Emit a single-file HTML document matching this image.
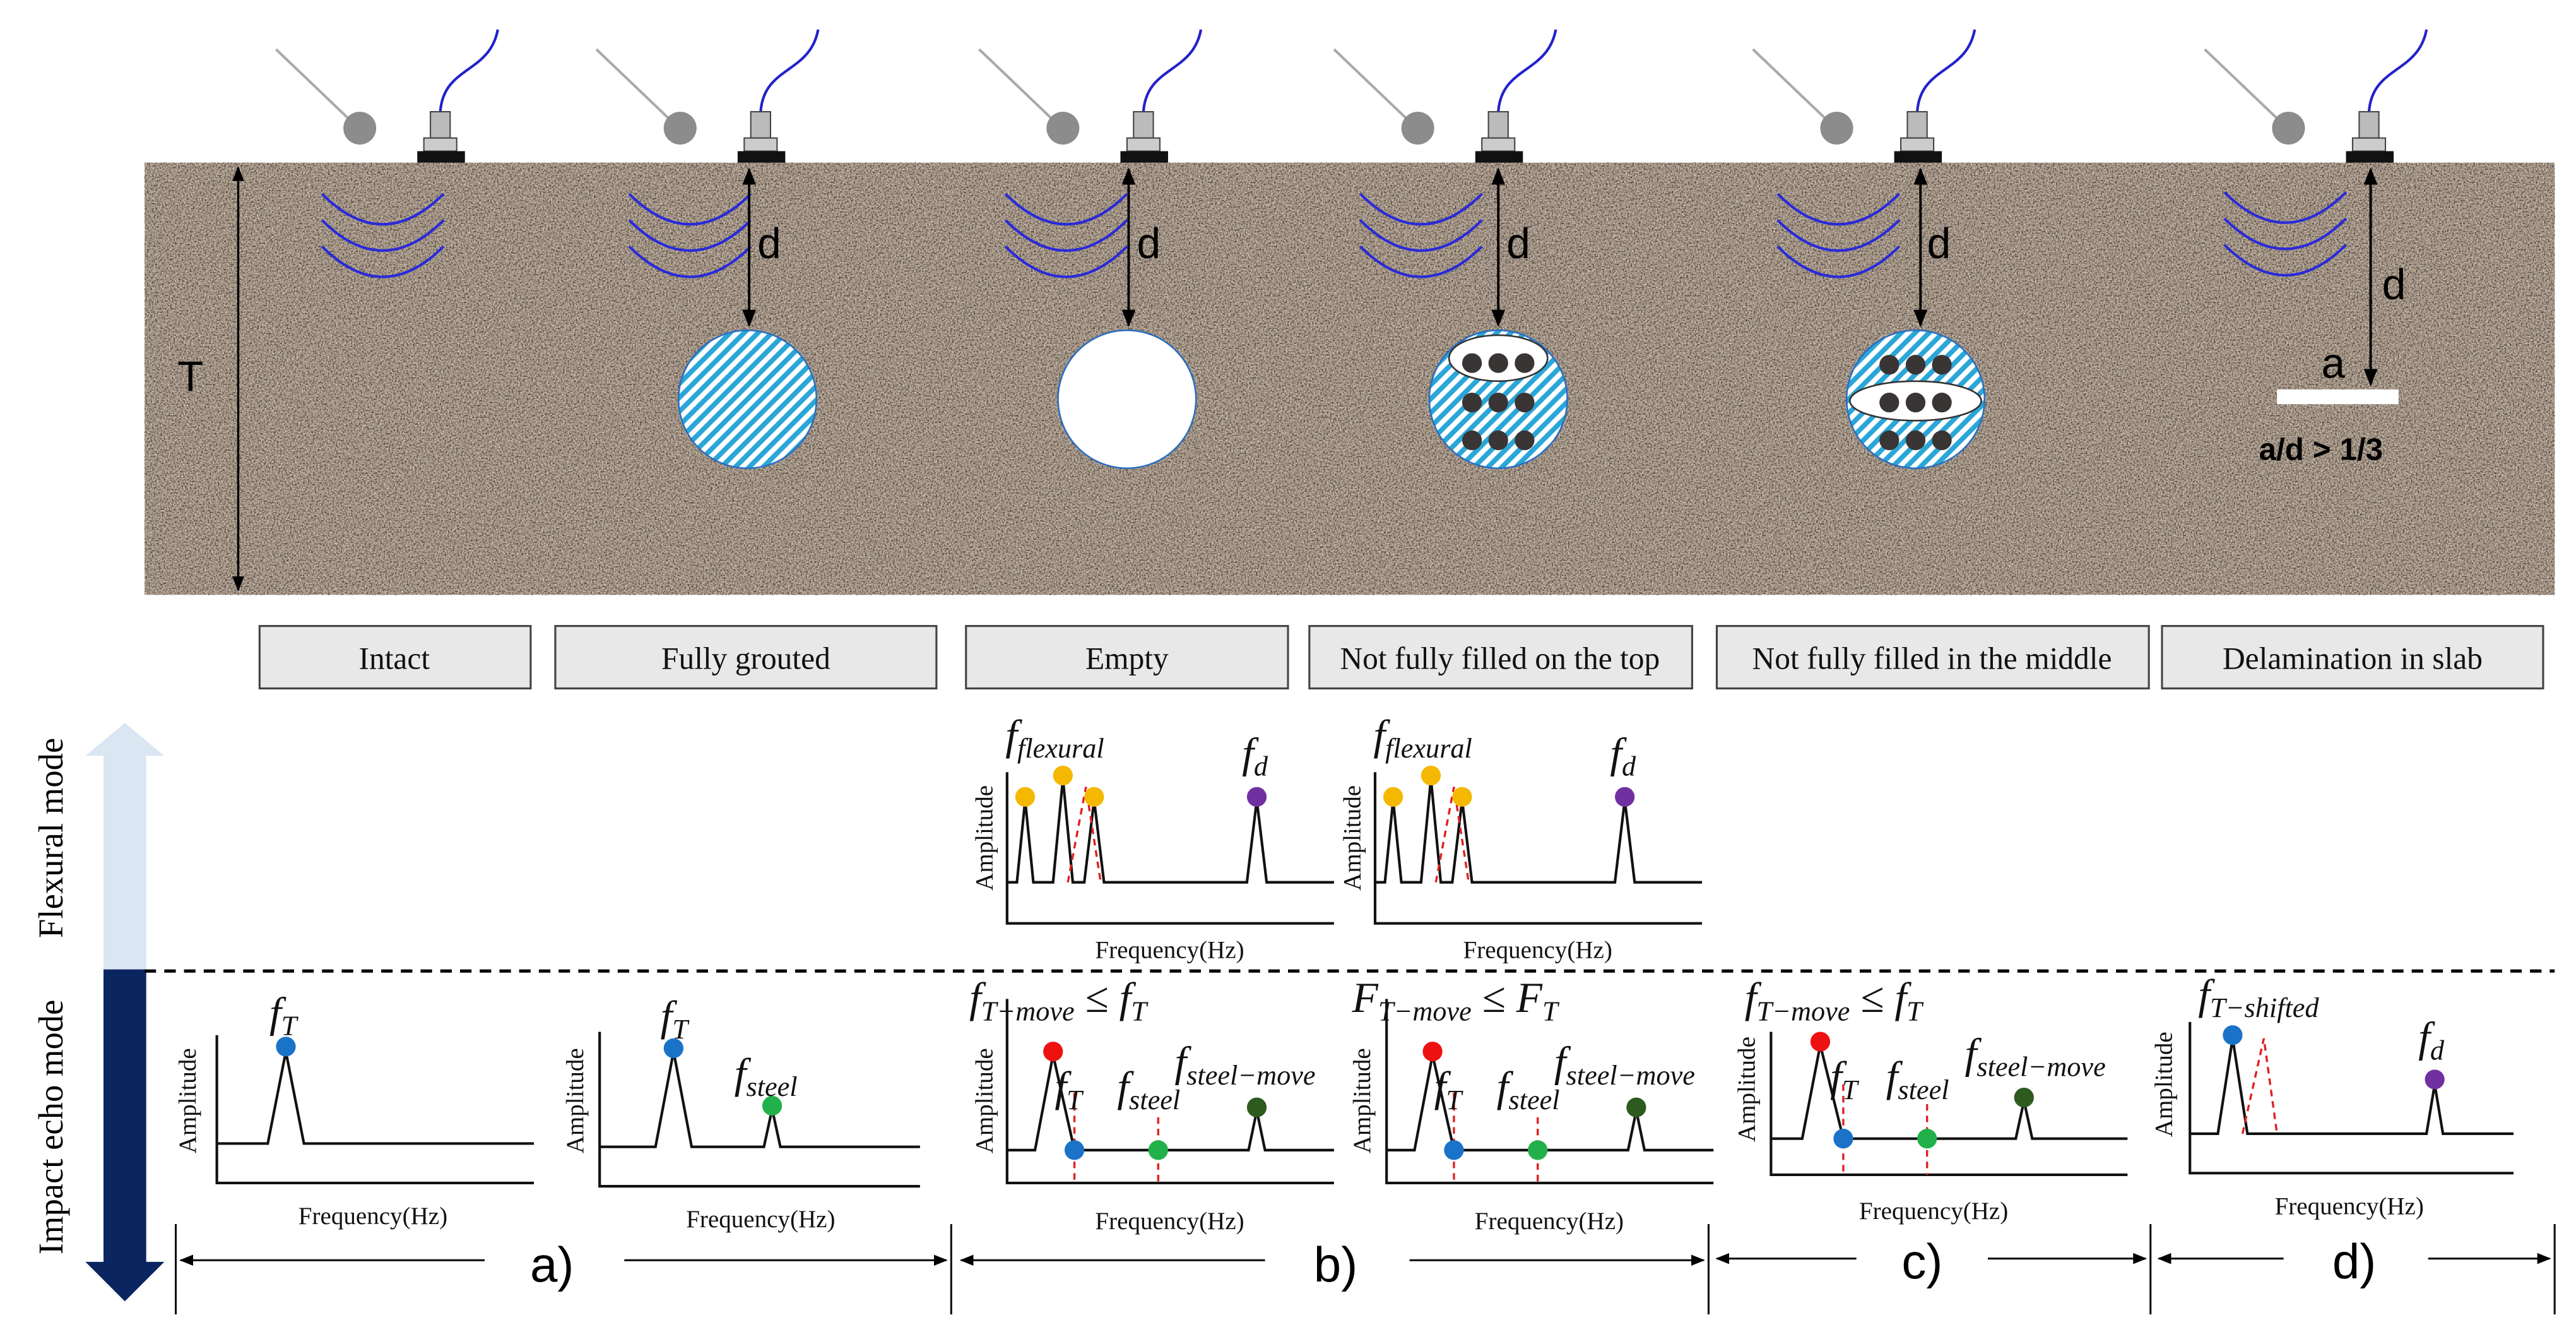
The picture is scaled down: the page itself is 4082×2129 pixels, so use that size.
<!DOCTYPE html>
<html><head><meta charset="utf-8"><style>
html,body{margin:0;padding:0;background:#fff}
svg{display:block}
.s{font-family:"Liberation Serif",serif}
.m{font-family:"Liberation Serif",serif;font-style:italic}
.a{font-family:"Liberation Sans",sans-serif}
</style></head><body>
<svg width="4082" height="2129" viewBox="0 0 1568 818" preserveAspectRatio="none" xmlns="http://www.w3.org/2000/svg">
<defs>
<pattern id="h" width="6" height="6" patternUnits="userSpaceOnUse" patternTransform="rotate(45)">
<rect width="6" height="6" fill="#fff"/><rect width="3" height="6" fill="#2aa6d8"/></pattern>
<filter id="n" x="0" y="0" width="1" height="1" color-interpolation-filters="sRGB">
<feTurbulence type="fractalNoise" baseFrequency="1.2" numOctaves="2" seed="3" result="t"/>
<feColorMatrix in="t" values="0 0 0 0 0.85  0 0 0 0 0.80  0 0 0 0 0.75  3.5 0 0 0 -1.6"/>
</filter>
<filter id="n2" x="0" y="0" width="1" height="1" color-interpolation-filters="sRGB">
<feTurbulence type="fractalNoise" baseFrequency="1.0" numOctaves="2" seed="9" result="t"/>
<feColorMatrix in="t" values="0 0 0 0 0.30  0 0 0 0 0.26  0 0 0 0 0.22  0 3.5 0 0 -1.7"/>
</filter>
<marker id="ae" viewBox="0 0 10 10" refX="9" refY="5" markerWidth="7" markerHeight="7" orient="auto-start-reverse"><path d="M0,1 L10,5 L0,9z" fill="#000"/></marker>
</defs>
<!-- concrete -->
<rect x="88" y="99" width="1467" height="263" fill="#9f9081"/>
<rect x="88" y="99" width="1467" height="263" fill="#000" filter="url(#n)"/>
<rect x="88" y="99" width="1467" height="263" fill="#000" filter="url(#n2)"/>
<!-- T -->
<line x1="145" y1="102" x2="145" y2="359" stroke="#000" stroke-width="1.3" marker-start="url(#ae)" marker-end="url(#ae)"/>
<text x="108" y="238" class="a" font-size="26">T</text>
<!-- sensors -->
<g stroke-width="1.6" fill="none">
<g transform="translate(0,0)">
<line x1="168" y1="30" x2="213" y2="73" stroke="#aaa"/><circle cx="219" cy="78" r="10" fill="#8c8c8c" stroke="none"/>
<path d="M268,68 C270,40 298,45 303,18" stroke="#2222cc"/><rect x="262" y="68" width="12" height="16" fill="#bbb" stroke="#444" stroke-width="0.8"/><rect x="258" y="84" width="20" height="8" fill="#ccc" stroke="#444" stroke-width="0.8"/><rect x="254" y="92" width="29" height="7" fill="#111" stroke="none"/>
</g>
<g transform="translate(195,0)">
<line x1="168" y1="30" x2="213" y2="73" stroke="#aaa"/><circle cx="219" cy="78" r="10" fill="#8c8c8c" stroke="none"/>
<path d="M268,68 C270,40 298,45 303,18" stroke="#2222cc"/><rect x="262" y="68" width="12" height="16" fill="#bbb" stroke="#444" stroke-width="0.8"/><rect x="258" y="84" width="20" height="8" fill="#ccc" stroke="#444" stroke-width="0.8"/><rect x="254" y="92" width="29" height="7" fill="#111" stroke="none"/>
</g>
<g transform="translate(428,0)">
<line x1="168" y1="30" x2="213" y2="73" stroke="#aaa"/><circle cx="219" cy="78" r="10" fill="#8c8c8c" stroke="none"/>
<path d="M268,68 C270,40 298,45 303,18" stroke="#2222cc"/><rect x="262" y="68" width="12" height="16" fill="#bbb" stroke="#444" stroke-width="0.8"/><rect x="258" y="84" width="20" height="8" fill="#ccc" stroke="#444" stroke-width="0.8"/><rect x="254" y="92" width="29" height="7" fill="#111" stroke="none"/>
</g>
<g transform="translate(644,0)">
<line x1="168" y1="30" x2="213" y2="73" stroke="#aaa"/><circle cx="219" cy="78" r="10" fill="#8c8c8c" stroke="none"/>
<path d="M268,68 C270,40 298,45 303,18" stroke="#2222cc"/><rect x="262" y="68" width="12" height="16" fill="#bbb" stroke="#444" stroke-width="0.8"/><rect x="258" y="84" width="20" height="8" fill="#ccc" stroke="#444" stroke-width="0.8"/><rect x="254" y="92" width="29" height="7" fill="#111" stroke="none"/>
</g>
<g transform="translate(899,0)">
<line x1="168" y1="30" x2="213" y2="73" stroke="#aaa"/><circle cx="219" cy="78" r="10" fill="#8c8c8c" stroke="none"/>
<path d="M268,68 C270,40 298,45 303,18" stroke="#2222cc"/><rect x="262" y="68" width="12" height="16" fill="#bbb" stroke="#444" stroke-width="0.8"/><rect x="258" y="84" width="20" height="8" fill="#ccc" stroke="#444" stroke-width="0.8"/><rect x="254" y="92" width="29" height="7" fill="#111" stroke="none"/>
</g>
<g transform="translate(1174,0)">
<line x1="168" y1="30" x2="213" y2="73" stroke="#aaa"/><circle cx="219" cy="78" r="10" fill="#8c8c8c" stroke="none"/>
<path d="M268,68 C270,40 298,45 303,18" stroke="#2222cc"/><rect x="262" y="68" width="12" height="16" fill="#bbb" stroke="#444" stroke-width="0.8"/><rect x="258" y="84" width="20" height="8" fill="#ccc" stroke="#444" stroke-width="0.8"/><rect x="254" y="92" width="29" height="7" fill="#111" stroke="none"/>
</g>
</g>
<!-- waves -->
<g fill="none" stroke="#2a2ad8" stroke-width="1.6">
<path d="M196,118 Q233,155 270,118 M196,134 Q233,171 270,134 M196,150 Q233,187 270,150"/>
<path d="M383,118 Q420,155 457,118 M383,134 Q420,171 457,134 M383,150 Q420,187 457,150"/>
<path d="M612,118 Q649,155 686,118 M612,134 Q649,171 686,134 M612,150 Q649,187 686,150"/>
<path d="M828,118 Q865,155 902,118 M828,134 Q865,171 902,134 M828,150 Q865,187 902,150"/>
<path d="M1082,118 Q1119,155 1156,118 M1082,134 Q1119,171 1156,134 M1082,150 Q1119,187 1156,150"/>
<path d="M1354,117 Q1391,154 1428,117 M1354,133 Q1391,170 1428,133 M1354,149 Q1391,186 1428,149"/>
</g>
<!-- d arrows -->
<g stroke="#000" stroke-width="1.5">
<line x1="456" y1="103" x2="456" y2="198" marker-start="url(#ae)" marker-end="url(#ae)"/>
<line x1="687" y1="103" x2="687" y2="198" marker-start="url(#ae)" marker-end="url(#ae)"/>
<line x1="912" y1="103" x2="912" y2="198" marker-start="url(#ae)" marker-end="url(#ae)"/>
<line x1="1169" y1="103" x2="1169" y2="198" marker-start="url(#ae)" marker-end="url(#ae)"/>
<line x1="1443" y1="103" x2="1443" y2="234" marker-start="url(#ae)" marker-end="url(#ae)"/>
</g>
<g class="a" font-size="26">
<text x="461" y="157">d</text><text x="692" y="157">d</text><text x="917" y="157">d</text><text x="1173" y="157">d</text><text x="1450" y="182">d</text><text x="1413" y="230">a</text>
</g>
<rect x="1386" y="237" width="74" height="9" fill="#fff"/>
<text x="1375" y="280" class="a" font-size="19" font-weight="bold">a/d &gt; 1/3</text>
<!-- voids -->
<circle cx="455" cy="243" r="42" fill="url(#h)" stroke="#2a6ec0" stroke-width="1"/>
<circle cx="686" cy="243" r="42" fill="#fff" stroke="#2a6ec0" stroke-width="1"/>
<circle cx="912" cy="243" r="42" fill="url(#h)" stroke="#2a6ec0" stroke-width="1"/>
<ellipse cx="912" cy="218" rx="30" ry="14" fill="#fff" stroke="#333" stroke-width="1"/>
<g fill="#3a3535">
<circle cx="896" cy="221" r="6"/><circle cx="912" cy="221" r="6"/><circle cx="928" cy="221" r="6"/>
<circle cx="896" cy="245" r="6"/><circle cx="912" cy="245" r="6"/><circle cx="928" cy="245" r="6"/>
<circle cx="896" cy="268" r="6"/><circle cx="912" cy="268" r="6"/><circle cx="928" cy="268" r="6"/>
</g>
<circle cx="1166" cy="243" r="42" fill="url(#h)" stroke="#2a6ec0" stroke-width="1"/>
<ellipse cx="1166" cy="244" rx="40" ry="12" fill="#fff" stroke="#333" stroke-width="1"/>
<g fill="#3a3535">
<circle cx="1150" cy="222" r="6"/><circle cx="1166" cy="222" r="6"/><circle cx="1182" cy="222" r="6"/>
<circle cx="1150" cy="245" r="6"/><circle cx="1166" cy="245" r="6"/><circle cx="1182" cy="245" r="6"/>
<circle cx="1150" cy="268" r="6"/><circle cx="1166" cy="268" r="6"/><circle cx="1182" cy="268" r="6"/>
</g>
<!-- label boxes -->
<g fill="#e8e8e8" stroke="#444" stroke-width="1.2">
<rect x="158" y="381" width="165" height="38"/><rect x="338" y="381" width="232" height="38"/><rect x="588" y="381" width="196" height="38"/><rect x="797" y="381" width="233" height="38"/><rect x="1045" y="381" width="263" height="38"/><rect x="1316" y="381" width="232" height="38"/>
</g>
<g class="s" font-size="19" text-anchor="middle" fill="#111">
<text x="240" y="407">Intact</text><text x="454" y="407">Fully grouted</text><text x="686" y="407">Empty</text><text x="913" y="407">Not fully filled on the top</text><text x="1176" y="407">Not fully filled in the middle</text><text x="1432" y="407">Delamination in slab</text>
</g>
<!-- side arrow -->
<path d="M63,590 L63,460 L52,460 L76,440 L100,460 L89,460 L89,590z" fill="#dbe6f3"/>
<path d="M63,590 L63,768 L52,768 L76,792 L100,768 L89,768 L89,590z" fill="#0b2560"/>
<text transform="translate(38,510) rotate(-90)" class="s" font-size="21" text-anchor="middle">Flexural mode</text>
<text transform="translate(38,686) rotate(-90)" class="s" font-size="21" text-anchor="middle">Impact echo mode</text>
<line x1="88" y1="591" x2="1555" y2="591" stroke="#000" stroke-width="2" stroke-dasharray="7,5"/>
<!-- charts -->
<g fill="none" stroke="#111" stroke-width="1.6">
<path d="M132,630 L132,720 L325,720"/><path d="M132,696 L163,696 L174,640 L185,696 L325,696"/>
<path d="M365,628 L365,722 L560,722"/><path d="M365,698 L399,698 L410,640 L421,698 L465,698 L470,675 L475,698 L560,698"/>
<path d="M613,470 L613,562 L812,562"/><path d="M613,537 L619,537 L624,487 L629,537 L641,537 L647,474 L653,537 L660,537 L666,487 L672,537 L759,537 L765,487 L771,537 L812,537"/>
<path d="M837,470 L837,562 L1036,562"/><path d="M837,537 L843,537 L848,487 L853,537 L865,537 L871,474 L877,537 L884,537 L890,487 L896,537 L983,537 L989,487 L995,537 L1036,537"/>
<path d="M613,608 L613,720 L812,720"/><path d="M613,700 L630,700 L641,642 L654,700 L760,700 L765,676 L770,700 L812,700"/>
<path d="M844,608 L844,720 L1043,720"/><path d="M844,700 L861,700 L872,642 L885,700 L991,700 L996,676 L1001,700 L1043,700"/>
<path d="M1078,628 L1078,715 L1295,715"/><path d="M1078,693 L1097,693 L1108,636 L1122,693 L1227,693 L1232,670 L1237,693 L1295,693"/>
<path d="M1333,622 L1333,714 L1530,714"/><path d="M1333,690 L1350,690 L1359,632 L1368,690 L1477,690 L1482,660 L1487,690 L1530,690"/>
</g>
<g fill="none" stroke="#e02020" stroke-width="1.3" stroke-dasharray="4,3">
<path d="M650,537 L661,479 L670,537"/><path d="M874,537 L885,479 L894,537"/>
<path d="M654,665 L654,720 M705,680 L705,720"/><path d="M885,665 L885,720 M936,680 L936,720"/>
<path d="M1122,660 L1122,715 M1173,672 L1173,715"/><path d="M1365,690 L1378,632 L1386,690"/>
</g>
<g>
<circle cx="174" cy="637" r="6" fill="#1a73c8"/><circle cx="410" cy="638" r="6" fill="#1a73c8"/><circle cx="470" cy="673" r="6" fill="#22b04a"/>
<circle cx="624" cy="485" r="6" fill="#f5b800"/><circle cx="647" cy="472" r="6" fill="#f5b800"/><circle cx="666" cy="485" r="6" fill="#f5b800"/><circle cx="765" cy="485" r="6" fill="#7030a0"/>
<circle cx="848" cy="485" r="6" fill="#f5b800"/><circle cx="871" cy="472" r="6" fill="#f5b800"/><circle cx="890" cy="485" r="6" fill="#f5b800"/><circle cx="989" cy="485" r="6" fill="#7030a0"/>
<circle cx="641" cy="640" r="6" fill="#ee1111"/><circle cx="654" cy="700" r="6" fill="#1a73c8"/><circle cx="705" cy="700" r="6" fill="#22b04a"/><circle cx="765" cy="674" r="6" fill="#2d5a1e"/>
<circle cx="872" cy="640" r="6" fill="#ee1111"/><circle cx="885" cy="700" r="6" fill="#1a73c8"/><circle cx="936" cy="700" r="6" fill="#22b04a"/><circle cx="996" cy="674" r="6" fill="#2d5a1e"/>
<circle cx="1108" cy="634" r="6" fill="#ee1111"/><circle cx="1122" cy="693" r="6" fill="#1a73c8"/><circle cx="1173" cy="693" r="6" fill="#22b04a"/><circle cx="1232" cy="668" r="6" fill="#2d5a1e"/>
<circle cx="1359" cy="630" r="6" fill="#1a73c8"/><circle cx="1482" cy="657" r="6" fill="#7030a0"/>
</g>
<g class="s" font-size="15" text-anchor="middle" fill="#111">
<text x="227" y="745">Frequency(Hz)</text><text x="463" y="747">Frequency(Hz)</text>
<text x="712" y="583">Frequency(Hz)</text><text x="936" y="583">Frequency(Hz)</text>
<text x="712" y="748">Frequency(Hz)</text><text x="943" y="748">Frequency(Hz)</text>
<text x="1177" y="742">Frequency(Hz)</text><text x="1430" y="739">Frequency(Hz)</text>
<text transform="translate(119,670) rotate(-90)">Amplitude</text>
<text transform="translate(355,670) rotate(-90)">Amplitude</text>
<text transform="translate(604,510) rotate(-90)">Amplitude</text>
<text transform="translate(828,510) rotate(-90)">Amplitude</text>
<text transform="translate(604,670) rotate(-90)">Amplitude</text>
<text transform="translate(834,670) rotate(-90)">Amplitude</text>
<text transform="translate(1068,663) rotate(-90)">Amplitude</text>
<text transform="translate(1322,660) rotate(-90)">Amplitude</text>
</g>
<g class="m" font-size="26" fill="#111">
<text x="164" y="625">f<tspan font-size="17" dy="5">T</tspan></text>
<text x="402" y="627">f<tspan font-size="17" dy="5">T</tspan></text>
<text x="447" y="662">f<tspan font-size="17" dy="5">steel</tspan></text>
<text x="612" y="456">f<tspan font-size="17" dy="5">flexural</tspan></text>
<text x="836" y="456">f<tspan font-size="17" dy="5">flexural</tspan></text>
<text x="756" y="467">f<tspan font-size="17" dy="5">d</tspan></text>
<text x="980" y="467">f<tspan font-size="17" dy="5">d</tspan></text>
<text x="590" y="616">f<tspan font-size="17" dy="5">T−move</tspan><tspan dy="-5"> ≤ f</tspan><tspan font-size="17" dy="5">T</tspan></text>
<text x="823" y="616">F<tspan font-size="17" dy="5">T−move</tspan><tspan dy="-5"> ≤ F</tspan><tspan font-size="17" dy="5">T</tspan></text>
<text x="1062" y="616">f<tspan font-size="17" dy="5">T−move</tspan><tspan dy="-5"> ≤ f</tspan><tspan font-size="17" dy="5">T</tspan></text>
<text x="642" y="670">f<tspan font-size="17" dy="5">T</tspan></text>
<text x="680" y="670">f<tspan font-size="17" dy="5">steel</tspan></text>
<text x="715" y="655">f<tspan font-size="17" dy="5">steel−move</tspan></text>
<text x="873" y="670">f<tspan font-size="17" dy="5">T</tspan></text>
<text x="911" y="670">f<tspan font-size="17" dy="5">steel</tspan></text>
<text x="946" y="655">f<tspan font-size="17" dy="5">steel−move</tspan></text>
<text x="1114" y="664">f<tspan font-size="17" dy="5">T</tspan></text>
<text x="1148" y="664">f<tspan font-size="17" dy="5">steel</tspan></text>
<text x="1196" y="650">f<tspan font-size="17" dy="5">steel−move</tspan></text>
<text x="1338" y="614">f<tspan font-size="17" dy="5">T−shifted</tspan></text>
<text x="1472" y="640">f<tspan font-size="17" dy="5">d</tspan></text>
</g>
<g stroke="#111" stroke-width="1.2">
<line x1="107" y1="745" x2="107" y2="800"/><line x1="579" y1="745" x2="579" y2="800"/><line x1="1040" y1="745" x2="1040" y2="800"/><line x1="1309" y1="745" x2="1309" y2="800"/><line x1="1555" y1="745" x2="1555" y2="800"/>
<line x1="295" y1="767" x2="110" y2="767" marker-end="url(#ae)"/><line x1="380" y1="767" x2="576" y2="767" marker-end="url(#ae)"/>
<line x1="770" y1="767" x2="585" y2="767" marker-end="url(#ae)"/><line x1="858" y1="767" x2="1037" y2="767" marker-end="url(#ae)"/>
<line x1="1130" y1="766" x2="1045" y2="766" marker-end="url(#ae)"/><line x1="1210" y1="766" x2="1306" y2="766" marker-end="url(#ae)"/>
<line x1="1390" y1="766" x2="1314" y2="766" marker-end="url(#ae)"/><line x1="1478" y1="766" x2="1552" y2="766" marker-end="url(#ae)"/>
</g>
<g class="a" font-size="30" text-anchor="middle">
<text x="336" y="780">a)</text><text x="813" y="780">b)</text><text x="1170" y="778">c)</text><text x="1433" y="778">d)</text>
</g>
</svg>
</body></html>
